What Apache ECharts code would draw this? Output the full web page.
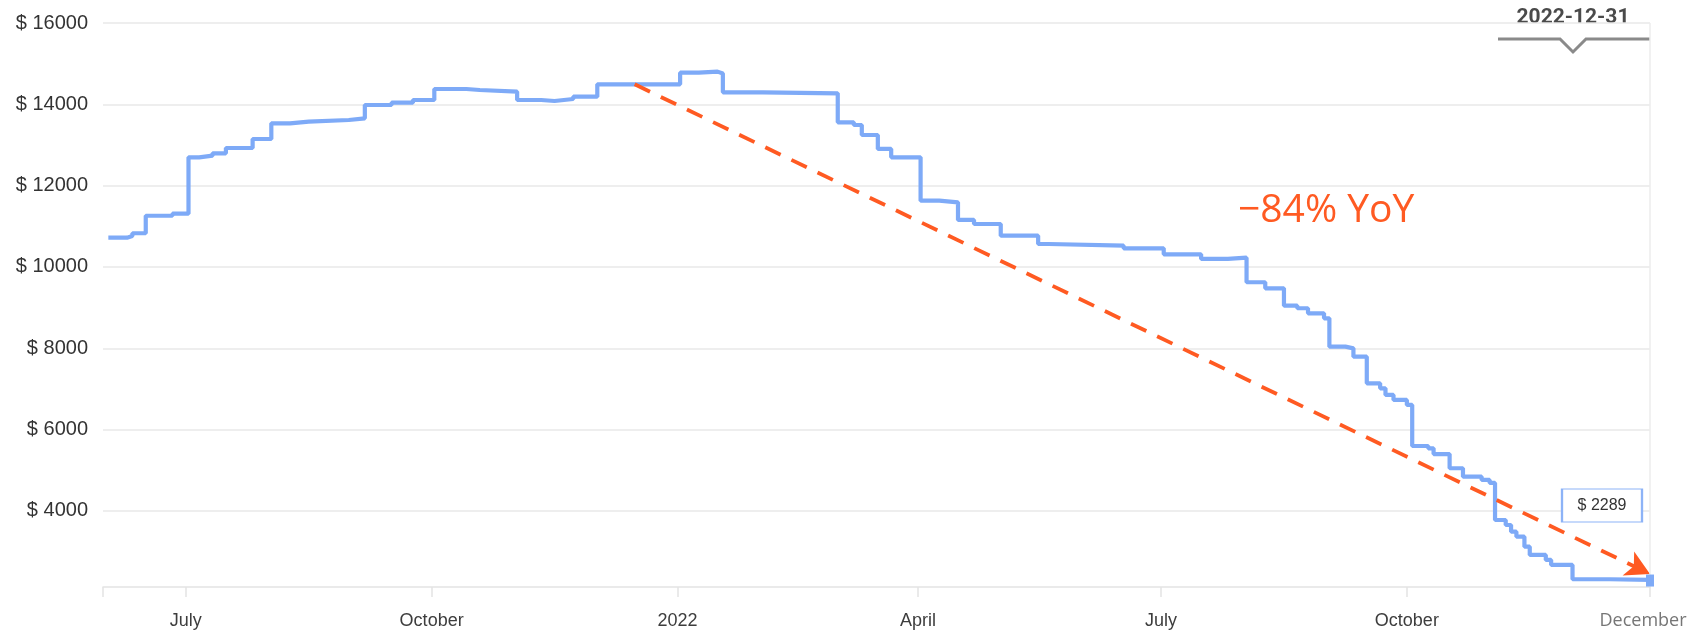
<!DOCTYPE html>
<html>
<head>
<meta charset="utf-8">
<script src="https://cdn.jsdelivr.net/npm/echarts@6/dist/echarts.min.js"></script>
<style>
html,body{margin:0;padding:0;background:#fff;}
#chart{width:1693px;height:633px;}
</style>
</head>
<body>
<div id="chart"></div>
<script>
// ---- data ----
const dates = ['2021-06-02','2021-06-09','2021-06-11','2021-06-16','2021-06-26','2021-07-02','2021-07-06','2021-07-11','2021-07-16','2021-07-26',
'2021-08-02','2021-08-09','2021-08-16','2021-08-31','2021-09-06','2021-09-16','2021-09-24','2021-10-02','2021-10-14','2021-10-19',
'2021-11-02','2021-11-11','2021-11-16','2021-11-23','2021-12-02','2022-01-02','2022-01-09','2022-01-16','2022-01-18','2022-02-02',
'2022-03-02','2022-03-08','2022-03-11','2022-03-17','2022-03-22','2022-04-02','2022-04-09','2022-04-16','2022-04-22','2022-05-02',
'2022-05-16','2022-05-20','2022-06-17','2022-07-02','2022-07-16','2022-07-26','2022-08-02','2022-08-09','2022-08-16','2022-08-21',
'2022-08-25','2022-08-31','2022-09-02','2022-09-08','2022-09-11','2022-09-16','2022-09-21','2022-09-23','2022-09-26','2022-10-01',
'2022-10-03','2022-10-09','2022-10-11','2022-10-17','2022-10-22','2022-10-29','2022-11-01','2022-11-03','2022-11-07','2022-11-09',
'2022-11-11','2022-11-14','2022-11-16','2022-11-22','2022-11-24','2022-12-02','2022-12-16','2022-12-31'];
const values = [10720,10760,10830,11260,11310,12697,12737,12795,12926,13147,
13533,13573,13615,13656,13984,14040,14106,14377,14352,14310,
14107,14082,14131,14188,14492,14778,14804,14760,14296,14271,
13558,13492,13246,12902,12697,11630,11590,11156,11057,10770,
10565,10524,10459,10312,10197,10230,9624,9476,9048,8985,
8861,8738,8040,7999,7795,7140,7017,6853,6730,6607,
5598,5541,5400,5050,4844,4762,4690,3778,3655,3491,
3368,3122,2918,2795,2672,2320,2303,2289];
const yTicks = [4000,6000,8000,10000,12000,14000,16000];
const xTickDates = ['2021-07-01','2021-10-01','2022-01-01','2022-04-01','2022-07-01','2022-10-01','2022-12-31'];
const xTickLabels = ['July','October','2022','April','July','October','December'];
const xMinDate = '2021-05-31';
const xMaxDate = '2022-12-31';
const yMin = 2130, yMax = 16000;
const trendStart = ['2021-12-16', 14492];
const trendEnd = ['2022-12-31', 2450];
const trendLabel = '\u221284% YoY';

function ts(s){ const p = s.split('-').map(Number); return Date.UTC(p[0], p[1]-1, p[2]); }

const seriesData = dates.map((d,i)=>[ts(d), values[i]]);
const xTickTs = xTickDates.map(ts);
const lastDate = dates[dates.length-1];
const lastVal = values[values.length-1];

const chart = echarts.init(document.getElementById('chart'), null, {renderer:'canvas'});
chart.setOption({
  animation:false,
  backgroundColor:'#fff',
  grid:{left:103, right:43, top:23, bottom:46, containLabel:false},
  xAxis:{
    type:'value',
    min:ts(xMinDate), max:ts(xMaxDate),
    axisLine:{show:true, lineStyle:{color:'#e3e3e3', width:1.5}},
    axisTick:{show:true, length:10, lineStyle:{color:'#e3e3e3', width:1.5}, customValues:[ts(xMinDate)].concat(xTickTs)},
    axisLabel:{
      customValues:xTickTs,
      margin:25,
      showMinLabel:true, showMaxLabel:true,
      fontFamily:'Liberation Sans', fontSize:18, color:'#3d3d3d',
      formatter:function(v){
        const i = xTickTs.indexOf(v);
        if(i<0) return '';
        if(i===xTickTs.length-1) return '{d|'+xTickLabels[i]+'}';
        return xTickLabels[i];
      },
      rich:{d:{fontFamily:'Open Sans', fontSize:18, color:'#767676', padding:[0,14,0,0]}}
    },
    splitLine:{show:false}
  },
  yAxis:{
    type:'value',
    min:yMin, max:yMax,
    axisLine:{show:false},
    axisTick:{show:false, customValues:yTicks},
    axisLabel:{customValues:yTicks, margin:15, fontFamily:'Liberation Sans', fontSize:20, color:'#333',
      formatter:function(v){ return '$ ' + v; }},
    splitLine:{show:true, lineStyle:{color:'#e8e8e8', width:1.5}}
  },
  series:[{
    type:'line',
    step:'end',
    data:seriesData,
    showSymbol:false,
    lineStyle:{color:'#7eaaf7', width:4.2},
    itemStyle:{color:'#7eaaf7'},
    z:3,
    markLine:{
      silent:true,
      animation:false,
      label:{show:false},
      data:[
        [{coord:[ts(trendStart[0]), trendStart[1]], symbol:'none'},
         {coord:[ts(trendEnd[0]), trendEnd[1]], symbol:'arrow', symbolSize:[20,24]}],
        [{coord:[ts(lastDate), yMax], symbol:'none', lineStyle:{color:'#ececec', width:1.5, type:'solid'}},
         {coord:[ts(lastDate), yMin], symbol:'none'}]
      ],
      lineStyle:{color:'#ff5a22', width:3.8, type:[17,12]}
    },
    markPoint:{
      silent:true,
      animation:false,
      data:[
        {coord:[ts(lastDate), lastVal], symbol:'rect', symbolSize:[8,12], itemStyle:{color:'#7eaaf7'}, label:{show:false}},
        {coord:[ts(lastDate), lastVal], symbol:'rect', symbolSize:[80,33], symbolOffset:[-48,-75],
         itemStyle:{color:'#fff', borderColor:'#8db3f7', borderWidth:1.5},
         label:{show:true, position:'inside', formatter:'$ ' + lastVal, fontFamily:'Liberation Sans', fontSize:16, color:'#333'}}
      ]
    }
  }],
  graphic:[
    {type:'text', left:1238, top:191, style:{text:trendLabel, fontFamily:'Open Sans', fontSize:39, fill:'#ff5a22'}},
    {type:'text', x:1573, y:18, style:{text:lastDate, fontFamily:'Roboto', fontWeight:'bold', fontSize:21, fill:'#4a4a4a', align:'center', verticalAlign:'middle'}},
    {type:'polyline', shape:{points:[[1498,39],[1560,39],[1573,52],[1586,39],[1650,39]]}, style:{stroke:'#8a8a8a', lineWidth:3, fill:null}}
  ]
});
</script>
</body>
</html>
